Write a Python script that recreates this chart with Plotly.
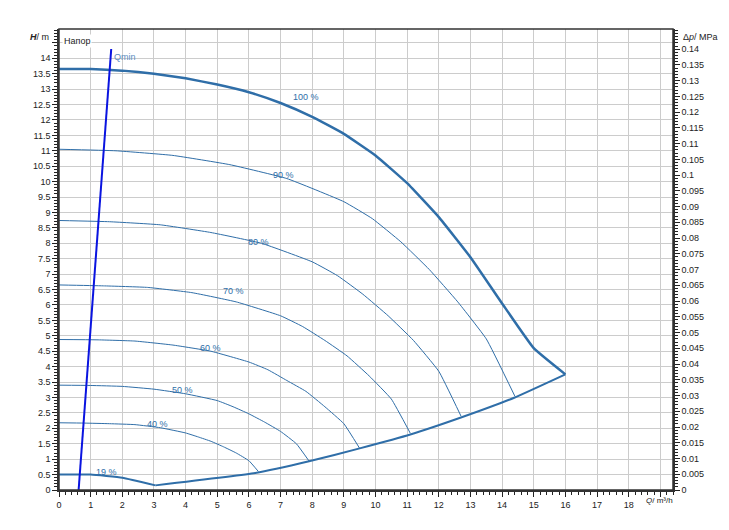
import plotly.graph_objects as go

C = "#2f6ea8"
q100 = [0, 1, 2, 3, 4, 5, 6, 7, 8, 9, 10, 11, 12, 13, 14, 15, 16]
h100 = [13.65, 13.65, 13.6, 13.5, 13.35, 13.15, 12.9, 12.55, 12.1, 11.55, 10.85, 9.95, 8.85, 7.55, 6.05, 4.6, 3.75]
q90 = [0, 1.8, 3.6, 5.4, 7.2, 9, 9.9, 10.8, 11.7, 12.6, 13.5, 14.4]
h90 = [11.05, 11.0, 10.85, 10.55, 10.1, 9.35, 8.8, 8.05, 7.15, 6.1, 4.9, 3.05]
q80 = [0, 1.6, 3.2, 4.8, 6.4, 8, 8.8, 9.6, 10.4, 11.2, 12, 12.7]
h80 = [8.74, 8.7, 8.6, 8.35, 8.0, 7.4, 6.95, 6.35, 5.65, 4.85, 3.85, 2.4]
q70 = [0, 1.4, 2.8, 4.2, 5.6, 7, 7.7, 8.4, 9.1, 9.8, 10.5, 11.1]
h70 = [6.65, 6.62, 6.57, 6.4, 6.1, 5.65, 5.3, 4.85, 4.35, 3.7, 2.95, 1.84]
q60 = [0, 1.2, 2.4, 3.6, 4.8, 6, 6.6, 7.2, 7.8, 8.4, 9, 9.5]
h60 = [4.88, 4.87, 4.83, 4.7, 4.5, 4.15, 3.9, 3.55, 3.2, 2.7, 2.15, 1.35]
q50 = [0, 1, 2, 3, 4, 5, 5.5, 6, 6.5, 7, 7.5, 7.9]
h50 = [3.4, 3.39, 3.36, 3.27, 3.12, 2.9, 2.7, 2.47, 2.2, 1.9, 1.5, 0.94]
q40 = [0, 0.8, 1.6, 2.4, 3.2, 4, 4.4, 4.8, 5.2, 5.6, 6.0, 6.3]
h40 = [2.18, 2.17, 2.15, 2.12, 2.02, 1.85, 1.72, 1.58, 1.4, 1.2, 0.95, 0.6]
q19 = [0, 1, 2, 3.05]
h19 = [0.5, 0.5, 0.4, 0.15]
qsys = [3.05, 6.2, 7.9, 9.5, 11.1, 12.7, 14.4, 16]
hsys = [0.15, 0.55, 0.93, 1.35, 1.8, 2.35, 3.0, 3.75]
qmin_q = [0.62, 1.65]
qmin_h = [0, 14.3]
lbl_text = ["100 %", "90 %", "80 %", "70 %", "60 %", "50 %", "40 %", "19 %"]
lbl_q = [7.8, 7.1, 6.3, 5.5, 4.8, 3.9, 3.1, 1.5]
lbl_h = [12.75, 10.2, 8.05, 6.45, 4.6, 3.25, 2.15, 0.6]
x_ticks = list(range(0, 20))
x_labels = [str(v) for v in range(0, 19)] + [""]
y_ticks = [i * 0.5 for i in range(0, 30)]
y_labels = [f"{v:g}" for v in y_ticks[:29]] + [""]
p_ticks = [round(i * 0.005, 3) for i in range(0, 29)]
p_labels = [f"{v:g}" for v in p_ticks]

fig = go.Figure()
for q, h, w in [(q100, h100, 2.5), (q90, h90, 1), (q80, h80, 1), (q70, h70, 1), (q60, h60, 1),
                (q50, h50, 1), (q40, h40, 1), (q19, h19, 2), (qsys, hsys, 2)]:
    fig.add_trace(go.Scatter(x=q, y=h, mode="lines", line=dict(color=C, width=w, shape="spline", smoothing=0.35), hoverinfo="skip"))
fig.add_trace(go.Scatter(x=qmin_q, y=qmin_h, mode="lines", line=dict(color="#0a14e0", width=2)))
fig.add_trace(go.Scatter(x=[0], y=[0], yaxis="y2", mode="markers", marker=dict(opacity=0), hoverinfo="skip"))
for t, x, y in zip(lbl_text, lbl_q, lbl_h):
    fig.add_annotation(x=x, y=y, text=t, showarrow=False, font=dict(size=9, color=C))
fig.add_annotation(x=1.68, y=14.05, text="Qmin", showarrow=False, xanchor="left", font=dict(size=9, color="#5b8cc2"))
fig.add_annotation(x=0.005, y=0.99, xref="paper", yref="paper", text="Напор", showarrow=False, xanchor="left", yanchor="top",
                   font=dict(size=9, color="#222"), bgcolor="white")
fig.add_annotation(x=0, y=1, xref="paper", yref="paper", text="<i><b>H</b></i>/ m", showarrow=False, xanchor="right", yanchor="top",
                   xshift=-8, yshift=-1, font=dict(size=9, color="#222"))
fig.add_annotation(x=1, y=1, xref="paper", yref="paper", text="Δ<i>p</i>/ MPa", showarrow=False, xanchor="left", yanchor="top",
                   xshift=8, yshift=-1, font=dict(size=9, color="#222"))
fig.add_annotation(x=1, y=0, xref="paper", yref="paper", text="<i>Q</i>/ m³/h", showarrow=False, xanchor="right", yanchor="top",
                   xshift=2, yshift=-4, font=dict(size=8, color="#222"))

ax = dict(showline=True, linecolor="#333", linewidth=1.5, mirror=False, gridcolor="#cccccc", zeroline=False, automargin=False,
          ticks="outside", ticklen=5, tickcolor="#222", tickfont=dict(size=9, color="#222"))
fig.update_layout(
    width=729, height=530, margin=dict(l=51, r=64, t=21, b=48), showlegend=False,
    plot_bgcolor="white", paper_bgcolor="white", font=dict(family="Liberation Sans, Arial"),
    xaxis=dict(**ax, range=[0, 19.4], tickvals=x_ticks, ticktext=x_labels,
               minor=dict(dtick=0.2, ticks="outside", ticklen=3, tickcolor="#222", showgrid=False)),
    yaxis=dict(**ax, range=[0, 14.95], tickvals=y_ticks, ticktext=y_labels,
               minor=dict(dtick=0.1, ticks="outside", ticklen=3, tickcolor="#222", showgrid=False)),
    yaxis2=dict(**ax, overlaying="y", side="right", range=[0, 0.1464], tickvals=p_ticks, ticktext=p_labels, showgrid=False,
                minor=dict(dtick=0.001, ticks="outside", ticklen=3, tickcolor="#222")),
    shapes=[dict(type="rect", xref="paper", yref="paper", x0=0, y0=0, x1=1, y1=1, line=dict(color="#333", width=1.5))],
)
fig.write_html("out.html")
